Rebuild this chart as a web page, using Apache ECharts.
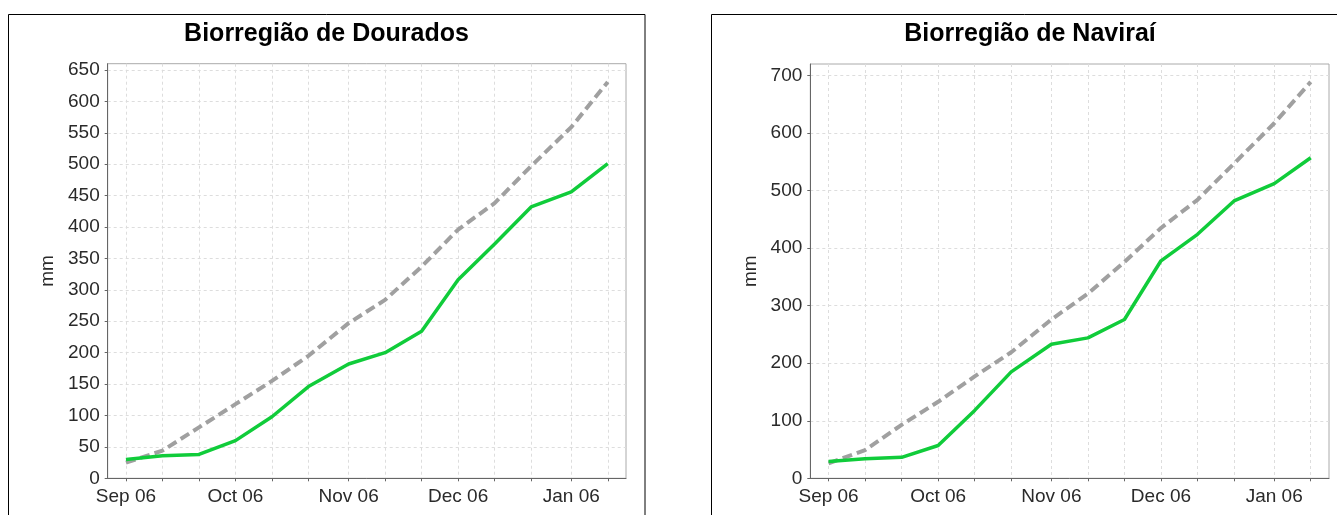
<!DOCTYPE html>
<html>
<head>
<meta charset="utf-8">
<script src="https://cdn.jsdelivr.net/npm/echarts@6/dist/echarts.min.js"></script>
<style>
html,body{margin:0;padding:0;background:#fff;}
#chart{width:1337px;height:515px;}
</style>
</head>
<body>
<div id="chart"></div>
<script>
// ---- data ----
const dates = ['2006-09-01','2006-09-11','2006-09-21','2006-10-01','2006-10-11','2006-10-21','2006-11-01',
               '2006-11-11','2006-11-21','2006-12-01','2006-12-11','2006-12-21','2007-01-01','2007-01-11'];
const labelDates = ['2006-09-01','2006-10-01','2006-11-01','2006-12-01','2007-01-01'];
const tickLabels = ['Sep 06','Oct 06','Nov 06','Dec 06','Jan 06'];

const titleLeft = 'Biorregião de Dourados';
const douradosObserved = [30, 36, 38, 60, 98, 146, 182, 200, 234, 316, 373, 432, 456, 501];
const douradosNormal   = [25, 44, 81, 118, 155, 195, 247, 284, 337, 396, 438, 497, 559, 631];
const douradosYTicks = [0,50,100,150,200,250,300,350,400,450,500,550,600,650];

const titleRight = 'Biorregião de Naviraí';
const naviraiObserved = [29, 34, 36.5, 57, 118, 185, 233, 244, 276, 378, 424, 482, 512, 557];
const naviraiNormal   = [26, 49, 93, 133, 177, 219, 276, 321, 376, 435, 484, 547, 617, 689];
const naviraiYTicks = [0,100,200,300,400,500,600,700];

const yName = 'mm';

// ---- helpers ----
const DAY = 86400000;
const t0 = Date.UTC(2006, 8, 1);
function dayOf(s){ const p = s.split('-').map(Number); return Math.round((Date.UTC(p[0], p[1]-1, p[2]) - t0) / DAY); }
const xDays = dates.map(dayOf);
const xLabelDays = labelDates.map(dayOf);
const labelMap = {};
xLabelDays.forEach((d,i)=>{ labelMap[d] = tickLabels[i]; });

const FONT = 'Liberation Sans, Arial, sans-serif';
const GREEN = '#10cc3a';
const GRAY = '#a0a0a0';
const AXIS = '#666666';
const TXT = '#2a2a2a';

function xAxisDef(gridIndex){
  return {
    type: 'value', gridIndex,
    min: xDays[0] - 5, max: xDays[xDays.length-1] + 5,
    axisLine: {show: true, onZero: false, lineStyle: {color: AXIS, width: 1}},
    axisTick: {show: true, length: 3, inside: false, lineStyle: {color: AXIS}, customValues: xDays},
    axisLabel: {show: true, margin: 9, color: TXT, fontFamily: FONT, fontSize: 19,
                customValues: xLabelDays, formatter: v => labelMap[v] || ''},
    splitLine: {show: true, lineStyle: {color: '#dddddd', type: [3,3], width: 1}}
  };
}
function yAxisDef(gridIndex, max, ticks){
  return {
    type: 'value', gridIndex, min: 0, max: max,
    name: yName, nameLocation: 'middle', nameGap: 50,
    nameTextStyle: {color: TXT, fontFamily: FONT, fontSize: 19},
    axisLine: {show: true, onZero: false, lineStyle: {color: AXIS, width: 1}},
    axisTick: {show: true, length: 3, lineStyle: {color: AXIS}, customValues: ticks},
    axisLabel: {show: true, margin: 8, color: TXT, fontFamily: FONT, fontSize: 19, customValues: ticks},
    splitLine: {show: true, lineStyle: {color: '#dddddd', type: [3,3], width: 1}}
  };
}
function seriesPair(idx, normal, observed){
  return [
    {type: 'line', xAxisIndex: idx, yAxisIndex: idx, data: xDays.map((d,i)=>[d, normal[i]]),
     showSymbol: false, symbol: 'none', lineStyle: {color: GRAY, width: 4, type: [10,5]}, z: 2, animation: false},
    {type: 'line', xAxisIndex: idx, yAxisIndex: idx, data: xDays.map((d,i)=>[d, observed[i]]),
     showSymbol: false, symbol: 'none', lineStyle: {color: GREEN, width: 3.5}, z: 3, animation: false}
  ];
}

const chart = echarts.init(document.getElementById('chart'), null, {renderer: 'canvas'});
chart.setOption({
  backgroundColor: '#ffffff',
  animation: false,
  title: [
    {text: titleLeft, left: 326.5, textAlign: 'center', top: 22, padding: 0,
     textStyle: {fontFamily: FONT, fontSize: 25, fontWeight: 'bold', color: '#000'}},
    {text: titleRight, left: 1030, textAlign: 'center', top: 22, padding: 0,
     textStyle: {fontFamily: FONT, fontSize: 25, fontWeight: 'bold', color: '#000'}}
  ],
  graphic: [
    {type: 'rect', shape: {x: 8.5, y: 14.5, width: 636.5, height: 520}, style: {fill: null, stroke: '#000', lineWidth: 1}, silent: true, z: -1},
    {type: 'rect', shape: {x: 711.5, y: 14.5, width: 640, height: 520}, style: {fill: null, stroke: '#000', lineWidth: 1}, silent: true, z: -1}
  ],
  grid: [
    {left: 107.7, top: 63.7, width: 518.3, height: 414.6, show: true, borderColor: '#aaaaaa', borderWidth: 1, backgroundColor: '#fff'},
    {left: 810.3, top: 64, width: 518.7, height: 414.3, show: true, borderColor: '#aaaaaa', borderWidth: 1, backgroundColor: '#fff'}
  ],
  xAxis: [xAxisDef(0), xAxisDef(1)],
  yAxis: [yAxisDef(0, 660, douradosYTicks), yAxisDef(1, 720, naviraiYTicks)],
  series: [].concat(seriesPair(0, douradosNormal, douradosObserved), seriesPair(1, naviraiNormal, naviraiObserved))
});
</script>
</body>
</html>
